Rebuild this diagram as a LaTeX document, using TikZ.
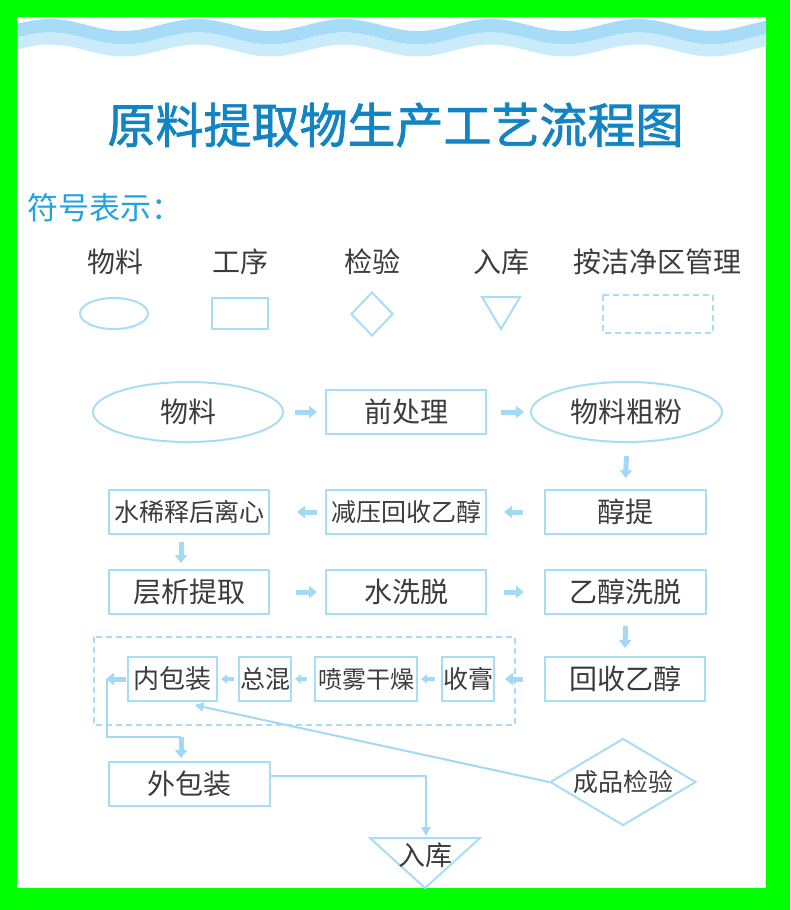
\documentclass[tikz,border=0pt]{standalone}
\usepackage{fontspec}
\setmainfont{Noto Sans CJK SC}
\newfontfamily\titlefont[FakeBold=1.5]{Noto Sans CJK SC}
\usetikzlibrary{arrows.meta,shapes.geometric}
\definecolor{bggreen}{HTML}{00FF00}
\definecolor{wdark}{HTML}{A6DCF8}
\definecolor{wlight}{HTML}{CBEBFB}
\definecolor{lineblue}{HTML}{A9DDF6}
\definecolor{arrblue}{HTML}{A3D9F4}
\definecolor{txtgray}{HTML}{3C3C3C}
\definecolor{ttlblue}{HTML}{1284C4}
\definecolor{subblue}{HTML}{1FA3E2}
\newcommand{\fs}[1]{\fontsize{#1}{#1}\selectfont}
\begin{document}
\begin{tikzpicture}[x=1pt,y=-1pt,
  box/.style={draw=lineblue, line width=2pt, rectangle, minimum height=44pt, inner sep=0pt, text=txtgray, font=\fs{28}, fill=white},
  oval/.style={draw=lineblue, line width=2pt, ellipse, inner sep=0pt, text=txtgray, font=\fs{28}, fill=white},
  dia/.style={draw=lineblue, line width=2pt, diamond, inner sep=0pt, text=txtgray, font=\fs{25}, fill=white},
  lbl/.style={text=txtgray, font=\fs{28}, inner sep=0pt},
  fat/.style={draw=arrblue, line width=5pt, -{Triangle[length=8pt,width=12pt]}},
  smallfat/.style={draw=arrblue, line width=4pt, -{Triangle[length=6pt,width=9pt]}},
  conn/.style={draw=arrblue, line width=2pt},
  connarrow/.style={draw=arrblue, line width=2pt, -{Triangle[length=9pt,width=9pt]}},
  zone/.style={draw=lineblue, line width=2pt, dash pattern=on 6pt off 4pt}
]
% background and frame
\fill[bggreen] (0,0) rectangle (790,910);
\fill[white] (17,17) rectangle (766,888);
% waves
\fill[wdark] plot[domain=17:766,samples=160] (\x,{25-6*cos(2.449*(\x-50))})
  -- plot[domain=766:17,samples=160] (\x,{38.5-6*cos(2.449*(\x-50))}) -- cycle;
\fill[wlight] plot[domain=17:766,samples=160] (\x,{38.5-6*cos(2.449*(\x-50))})
  -- plot[domain=766:17,samples=160] (\x,{50.5-6*cos(2.449*(\x-50))}) -- cycle;

% title
\node[font=\titlefont\fs{48}, text=ttlblue, inner sep=0pt] (title) at (395.5,125) {原料提取物生产工艺流程图};
\node[font=\fs{31}, text=subblue, inner sep=0pt, anchor=west] (legendhead) at (27,208) {符号表示：};

% legend
\node[lbl] (l1) at (115,262) {物料};
\node[lbl] (l2) at (240,262) {工序};
\node[lbl] (l3) at (372,262) {检验};
\node[lbl] (l4) at (501,262) {入库};
\node[lbl] (l5) at (657,262) {按洁净区管理};
\node[draw=lineblue, line width=2pt, ellipse, minimum width=68pt, minimum height=31pt, inner sep=0pt] (s1) at (114,313.5) {};
\node[draw=lineblue, line width=2pt, rectangle, minimum width=56pt, minimum height=31pt, inner sep=0pt] (s2) at (240,313.5) {};
\node[draw=lineblue, line width=2pt, diamond, minimum width=42pt, minimum height=44pt, inner sep=0pt] (s3) at (372,314) {};
\draw[lineblue, line width=2pt, line join=miter] (482,297) -- (520,297) -- (501,329) -- cycle;
\draw[zone] (603,295) rectangle (713,333);

% row 1
\node[oval, minimum width=190pt, minimum height=60pt] (wl) at (188,412) {物料};
\node[box, minimum width=160pt] (qcl) at (406,412) {前处理};
\node[oval, minimum width=191pt, minimum height=60pt] (cf) at (626.5,412) {物料粗粉};
% row 2
\node[box, minimum width=160pt, font=\fs{25}] (xs) at (189,512) {水稀释后离心};
\node[box, minimum width=160pt, font=\fs{25}] (jy) at (406,512) {减压回收乙醇};
\node[box, minimum width=161pt] (ct) at (625.5,512) {醇提};
% row 3
\node[box, minimum width=160pt] (cx) at (189,592) {层析提取};
\node[box, minimum width=160pt] (sx) at (406,592) {水洗脱};
\node[box, minimum width=161pt] (yx) at (625.5,592) {乙醇洗脱};
% row 4
\draw[zone] (94,637) rectangle (515,725);
\node[box, minimum width=89pt, font=\fs{26}] (nbz) at (172.5,679) {内包装};
\node[box, minimum width=52pt, font=\fs{25}] (zh) at (265,679) {总混};
\node[box, minimum width=102pt, font=\fs{24}] (pw) at (366,679) {喷雾干燥};
\node[box, minimum width=52pt, font=\fs{25}] (sg) at (468,679) {收膏};
\node[box, minimum width=160pt] (hs) at (625,679) {回收乙醇};
% row 5
\node[box, minimum width=161pt] (wbz) at (189.5,784) {外包装};
\node[dia, shape aspect=1.68, minimum width=146pt, minimum height=87pt] (cp) at (623,782) {成品检验};
\draw[lineblue, line width=2pt, line join=miter] (370,838) -- (480,838) -- (425,888) -- cycle;
\node[lbl, font=\fs{27}] (rk) at (425,855) {入库};
\coordinate (rktop) at (426,836);

% short fat arrows
\draw[fat] ([xshift=11pt]wl.east) -- ([xshift=-8pt]qcl.west);
\draw[fat] ([xshift=14pt]qcl.east) -- ([xshift=-6pt]cf.west);
\draw[fat] ([yshift=-13pt]cf.south) -- ([yshift=11pt]ct.north);
\draw[fat] ([xshift=-21pt]ct.west) -- ([xshift=17pt]jy.east);
\draw[fat] ([xshift=-8pt]jy.west) -- ([xshift=27pt]xs.east);
\draw[fat] ([xshift=-8pt,yshift=-7pt]xs.south) -- ([xshift=-8pt,yshift=6pt]cx.north);
\draw[fat] ([xshift=26pt]cx.east) -- ([xshift=-8pt]sx.west);
\draw[fat] ([xshift=17pt]sx.east) -- ([xshift=-20pt]yx.west);
\draw[fat] ([yshift=-11pt]yx.south) -- ([yshift=8pt]hs.north);
\draw[fat] ([xshift=-21pt]hs.west) -- ([xshift=10pt]sg.east);
\draw[smallfat] ([xshift=-6pt]sg.west) -- ([xshift=-20pt]sg.west);
\draw[smallfat] ([xshift=-7pt]pw.west) -- ([xshift=-19pt]pw.west);
\draw[smallfat] ([xshift=-4pt]zh.west) -- ([xshift=-17pt]zh.west);
\draw[fat] ([xshift=-1pt]nbz.west) -- ([xshift=-21pt]nbz.west);
% inner packing to outer packing
\coordinate (drop) at (181,737);
\draw[conn] ([xshift=-20pt]nbz.west) |- (drop);
\draw[fat] (drop) -- ([yshift=3pt]wbz.north -| drop);
% outer packing to warehouse
\draw[connarrow] ([yshift=8pt]wbz.east) -| (rktop);
% inspection to inner packing
\draw[connarrow] (cp.west) -- ([xshift=22pt,yshift=-3pt]nbz.south);
\end{tikzpicture}
\end{document}
